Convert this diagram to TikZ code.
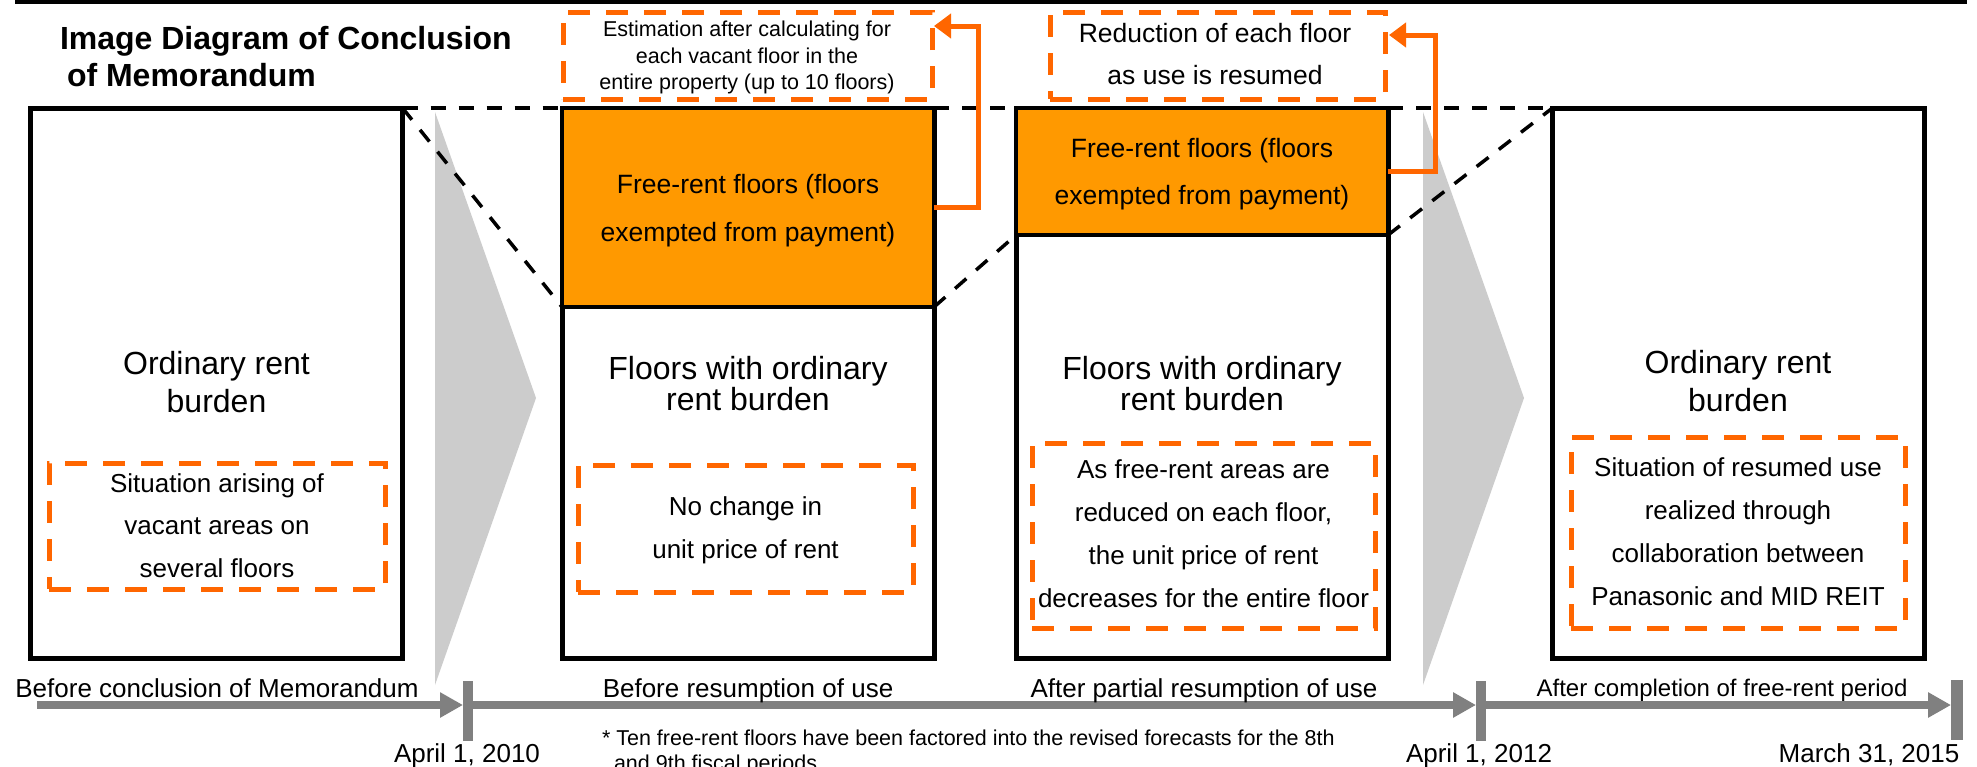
\documentclass[tikz,border=0pt]{standalone}
\usepackage{fontspec}
\setmainfont{Liberation Sans}
\usetikzlibrary{arrows.meta,calc}
\definecolor{freeorange}{RGB}{255,153,0}
\definecolor{noteorange}{RGB}{255,102,0}
\definecolor{chevgray}{RGB}{204,204,204}
\definecolor{timegray}{RGB}{128,128,128}
\newcommand\setfs[2]{\fontsize{#1}{#2}\selectfont}
\begin{document}
\begin{tikzpicture}[x=1pt,y=-1pt,
  every node/.style={inner sep=0pt,outer sep=0pt},
  stage/.style={draw=black,line width=5pt,fill=white,minimum width=372pt,minimum height=550pt},
  freepart/.style={draw=black,line width=4.5pt,fill=freeorange,minimum width=372pt},
  note/.style={draw=noteorange,line width=5pt,dash pattern=on 22pt off 16pt},
  zoomline/.style={black,line width=3.5pt,dash pattern=on 15pt off 13pt},
  feedback/.style={noteorange,line width=5pt,-{Triangle[length=17pt,width=24pt]}},
  chevron/.style={fill=chevgray},
  timeline/.style={timegray,line width=8pt,-{Triangle[length=23pt,width=24pt]}},
  tick/.style={fill=timegray,minimum width=10pt,minimum height=60pt},
  lbl/.style={anchor=base,align=center},
]
% canvas
\fill[white] (0,0) rectangle (1977,766);
\clip (0,0) rectangle (1977,766);

% rule along the top edge
\coordinate (rule-l) at (15,2);
\coordinate (rule-r) at (1967,2);
\draw[line width=3.5pt] (rule-l) -- (rule-r);

% title (base anchor = baseline of the last line)
\node[anchor=base west,align=left,font=\bfseries\setfs{32}{37}] (title) at (60,86)
  {Image Diagram of Conclusion\\\hspace*{7pt}of Memorandum};

% transition chevrons
\fill[chevron] (435,112) -- (536,398) -- (435,685) -- cycle;
\fill[chevron] (1423,112) -- (1524,398) -- (1423,685) -- cycle;

% stage boxes
\node[stage] (b1) at (216.5,383) {};
\node[stage] (b2) at (748,383) {};
\node[stage] (b3) at (1202,383) {};
\node[stage] (b4) at (1738.5,383) {};
\node[freepart,minimum height=199pt] (o2) at (748,207.5) {};
\node[freepart,minimum height=127pt] (o3) at (1202,171.5) {};

% zoom-in guide lines
\draw[zoomline] (b1.north east) -- (b2.north west);
\draw[zoomline] (b1.north east) -- (o2.south west);
\draw[zoomline] (b2.north east) -- (b3.north west);
\draw[zoomline] (o2.south east) -- (o3.south west);
\draw[zoomline] (b3.north east) -- (b4.north west);
\draw[zoomline] (o3.south east) -- (b4.north west);

% texts in the stage boxes
\node[lbl,font=\setfs{32}{38}] (b1txt) at (216.5,412) {Ordinary rent\\burden};
\node[lbl,font=\setfs{32}{31}] (b2txt) at (748,410) {Floors with ordinary\\rent burden};
\node[lbl,font=\setfs{32}{31}] (b3txt) at (1202,410) {Floors with ordinary\\rent burden};
\node[lbl,font=\setfs{32}{38}] (b4txt) at (1738,411) {Ordinary rent\\burden};
\node[lbl,font=\setfs{26.5}{48}] (o2txt) at (748,241) {Free-rent floors (floors\\exempted from payment)};
\node[lbl,font=\setfs{26.5}{47}] (o3txt) at (1202,204) {Free-rent floors (floors\\exempted from payment)};

% dashed notes
\node[note,minimum width=336pt,minimum height=126pt] (d1) at (217,526) {};
\node[note,minimum width=335pt,minimum height=127pt] (d2) at (745.5,528.5) {};
\node[note,minimum width=343pt,minimum height=185pt] (d3) at (1203.5,535.5) {};
\node[note,minimum width=334pt,minimum height=191pt] (d4) at (1738,532.5) {};
\node[note,minimum width=369pt,minimum height=87pt] (t1) at (747.5,55.5) {};
\node[note,minimum width=335pt,minimum height=87pt] (t2) at (1217.5,55.5) {};

\node[lbl,font=\setfs{26}{42.5}] (d1txt) at (217,577)
  {Situation arising of\\vacant areas on\\several floors};
\node[lbl,font=\setfs{26}{43}] (d2txt) at (745.5,558)
  {No change in\\unit price of rent};
\node[lbl,font=\setfs{26}{42.7}] (d3txt) at (1203.5,607)
  {As free-rent areas are\\reduced on each floor,\\the unit price of rent\\decreases for the entire floor};
\node[lbl,font=\setfs{26}{42.7}] (d4txt) at (1738,605)
  {Situation of resumed use\\realized through\\collaboration between\\Panasonic and MID REIT};
\node[lbl,font=\setfs{21.5}{26.3}] (t1txt) at (747,89.5)
  {Estimation after calculating for\\each vacant floor in the\\entire property (up to 10 floors)};
\node[lbl,font=\setfs{26.5}{42}] (t2txt) at (1215,84)
  {Reduction of each floor\\as use is resumed};

% feedback arrows
\draw[feedback] (o2.east) -- ++(44,0) |- ($(t1.north east)+(2,14)$);
\draw[feedback] (o3.east) -- ++(47,0) |- ($(t2.north east)+(4,23)$);

% time line
\coordinate (tl0) at (37,705);
\node[tick] (tk1) at (468,710.5) {};
\node[tick] (tk2) at (1481,710.5) {};
\node[tick,minimum width=12pt] (tk3) at (1957,709.5) {};
\draw[timeline] (tl0) -- (tl0 -| tk1.west);
\draw[timeline] (tk1 |- tl0) -- (tl0 -| tk2.west);
\draw[timeline] (tk2 |- tl0) -- (tl0 -| tk3.west);

\node[lbl,font=\setfs{26}{30}] (p1) at (217,697) {Before conclusion of Memorandum};
\node[lbl,font=\setfs{26}{30}] (p2) at (748,697) {Before resumption of use};
\node[lbl,font=\setfs{26}{30}] (p3) at (1204,697) {After partial resumption of use};
\node[lbl,font=\setfs{24}{30}] (p4) at (1722,696) {After completion of free-rent period};

\node[lbl,font=\setfs{26}{30}] (dt1) at (467,762) {April 1, 2010};
\node[lbl,font=\setfs{26}{30}] (dt2) at (1479,762) {April 1, 2012};
\node[lbl,font=\setfs{26}{30}] (dt3) at (1869,762) {March 31, 2015};

% footnote, second line runs past the lower edge
\node[anchor=base west,align=left,font=\setfs{21.5}{25}] (foot) at (602,770)
  {* Ten free-rent floors have been factored into the revised forecasts for the 8th\\\hspace*{12pt}and 9th fiscal periods};
\end{tikzpicture}
\end{document}
